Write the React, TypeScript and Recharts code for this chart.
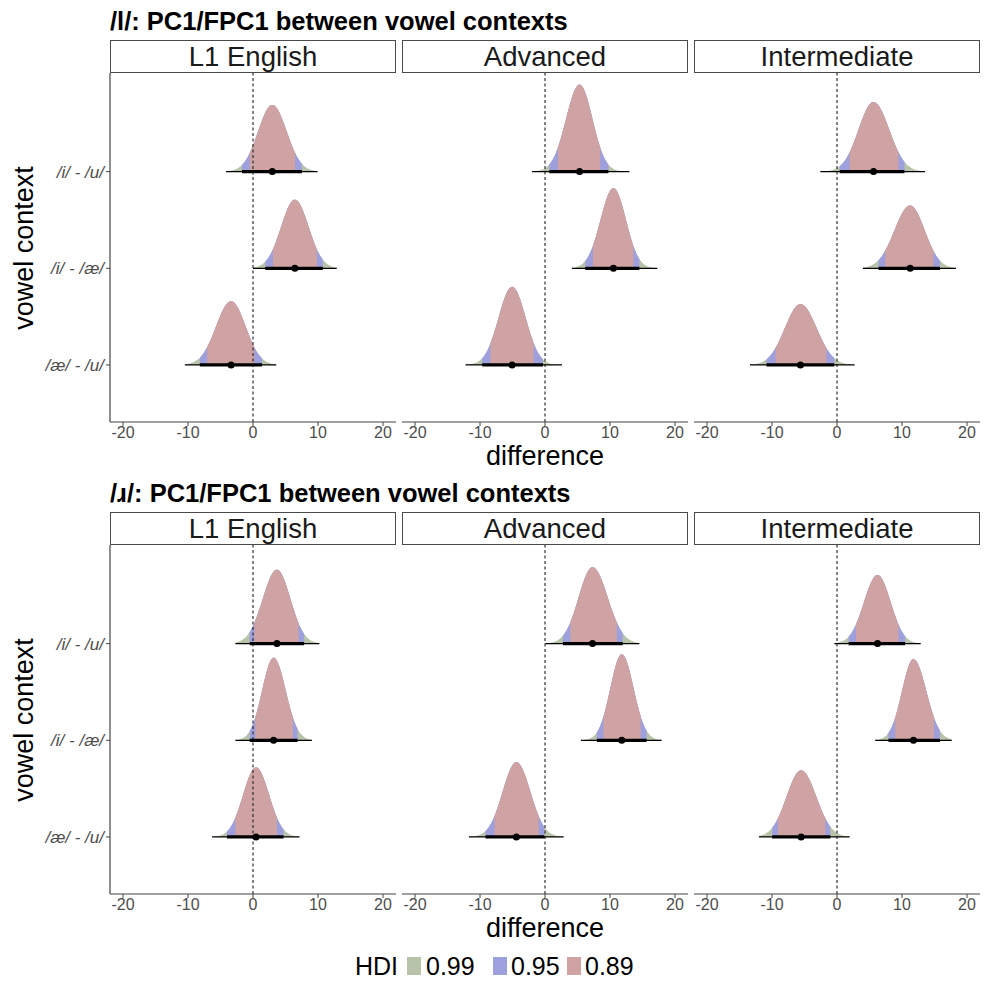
import React from 'react';
import { ComposedChart, Area, Line, Scatter, XAxis, YAxis, ReferenceLine } from 'recharts';

// ---------- data ----------
const TITLES = ['/l/: PC1/FPC1 between vowel contexts', '/ɹ/: PC1/FPC1 between vowel contexts'];
const GROUPS = ['L1 English', 'Advanced', 'Intermediate'];
const CONTRASTS = ['/i/ - /u/', '/i/ - /æ/', '/æ/ - /u/']; // top to bottom
const X_TICKS = [-20, -10, 0, 10, 20];
const HDI_LEVELS = ['0.99', '0.95', '0.89'];

// Row /l/  (per group, per contrast)
const L_MEDIAN = [[2.97, 6.44, -3.37], [5.32, 10.53, -5.06], [5.62, 11.25, -5.62]];
const L_LO99 = [[-4.14, 0.0, -10.48], [-1.99, 4.14, -12.22], [-2.56, 3.99, -13.39]];
const L_HI99 = [[9.92, 12.88, 3.58], [12.99, 17.28, 2.61], [13.55, 18.3, 2.71]];
const L_LO95 = [[-1.69, 1.89, -8.18], [0.66, 6.19, -9.66], [0.41, 6.39, -10.84]];
const L_HI95 = [[7.52, 10.74, 1.38], [9.76, 14.52, -0.31], [10.38, 15.85, -0.41]];
const L_LO89 = [[-0.51, 3.07, -7.06], [1.99, 7.36, -8.38], [1.94, 7.41, -9.46]];
const L_HI89 = [[6.49, 9.82, 0.2], [8.49, 13.6, -1.74], [9.46, 14.83, -1.64]];
const L_PEAK = [[0.69, 0.71, 0.66], [0.9, 0.83, 0.81], [0.72, 0.65, 0.63]];

// Row /ɹ/
const R_MEDIAN = [[3.68, 3.17, 0.46], [7.31, 11.81, -4.4], [6.24, 11.76, -5.52]];
const R_LO99 = [[-2.71, -2.71, -6.29], [0.05, 5.52, -11.71], [-0.41, 5.88, -12.01]];
const R_HI99 = [[10.22, 9.05, 7.16], [14.52, 17.94, 2.86], [12.88, 17.64, 1.94]];
const R_LO95 = [[-0.51, -0.51, -3.99], [2.76, 7.98, -9.15], [1.79, 7.92, -9.97]];
const R_HI95 = [[7.87, 6.85, 4.7], [11.96, 15.64, -0.1], [10.48, 15.85, -1.02]];
const R_LO89 = [[0.2, 0.36, -2.71], [3.89, 9.0, -7.77], [2.91, 8.95, -9.1]];
const R_HI89 = [[7.0, 6.13, 3.68], [11.04, 14.72, -0.97], [9.46, 14.93, -1.79]];
const R_PEAK = [[0.765, 0.855, 0.72], [0.79, 0.89, 0.775], [0.71, 0.84, 0.69]];

const ROWS = [
  { med: L_MEDIAN, lo99: L_LO99, hi99: L_HI99, lo95: L_LO95, hi95: L_HI95, lo89: L_LO89, hi89: L_HI89, peak: L_PEAK },
  { med: R_MEDIAN, lo99: R_LO99, hi99: R_HI99, lo95: R_LO95, hi95: R_HI95, lo89: R_LO89, hi89: R_HI89, peak: R_PEAK },
];

// ---------- style / layout ----------
const FONT = '"Liberation Sans", Arial, Helvetica, sans-serif';
const C99 = '#b8c4a9';
const C95 = '#9e9fdd';
const C89 = '#cfa2a4';
const PANEL_W = 286;
const PANEL_H = 349;
const XAXIS_H = 36;
const YAXIS_W = 100;
const PANEL_LEFTS = [110, 402, 694];
const ROW_OFFSET = 472;
const STRIP_TOP = 40;
const STRIP_H = 33;
const X_DOMAIN: [number, number] = [-22, 22];
const Y_DOMAIN: [number, number] = [0.41, 4.02];

function densityAt(x: number, med: number, sL: number, sR: number, peak: number) {
  const s = x < med ? sL : sR;
  const z = (x - med) / s;
  return peak * Math.exp(-0.5 * z * z);
}

function band(lo: number, hi: number, base: number, med: number, sL: number, sR: number, peak: number) {
  const n = 60;
  const pts: { x: number; v: [number, number] }[] = [];
  for (let i = 0; i <= n; i++) {
    const x = lo + ((hi - lo) * i) / n;
    pts.push({ x, v: [base, base + densityAt(x, med, sL, sR, peak)] });
  }
  return pts;
}

function Txt(props: {
  x: number; y: number; size: number; anchor?: 'start' | 'middle'; bold?: boolean;
  color?: string; rotate?: boolean; children: React.ReactNode;
}) {
  const { x, y, size, anchor = 'middle', bold, color = '#000', rotate, children } = props;
  const tx = anchor === 'middle' ? '-50%' : '0';
  return (
    <div
      style={{
        position: 'absolute', left: x, top: y, whiteSpace: 'nowrap',
        fontFamily: FONT, fontSize: size, lineHeight: `${size}px`, fontWeight: bold ? 700 : 400, color,
        transform: `translate(${tx}, -50%)${rotate ? ' rotate(-90deg)' : ''}`,
        transformOrigin: 'center center',
      }}
    >
      {children}
    </div>
  );
}

function Panel({ r, g, top }: { r: number; g: number; top: number }) {
  const row = ROWS[r];
  const showY = g === 0;
  const left = PANEL_LEFTS[g] - (showY ? YAXIS_W : 0);
  const width = PANEL_W + (showY ? YAXIS_W : 0);

  const items: React.ReactNode[] = [];
  const lines: React.ReactNode[] = [];
  const points: React.ReactNode[] = [];
  CONTRASTS.forEach((_, c) => {
    const base = 3 - c;
    const med = row.med[g][c];
    const sL = (med - row.lo89[g][c]) / 1.598;
    const sR = (row.hi89[g][c] - med) / 1.598;
    const peak = row.peak[g][c];
    const bands: [number, number, string][] = [
      [row.lo99[g][c], row.hi99[g][c], C99],
      [row.lo95[g][c], row.hi95[g][c], C95],
      [row.lo89[g][c], row.hi89[g][c], C89],
    ];
    bands.forEach(([lo, hi, col], b) => {
      items.push(
        <Area
          key={`a${c}-${b}`}
          data={band(lo, hi, base, med, sL, sR, peak)}
          dataKey="v"
          type="monotone"
          stroke="none"
          fill={col}
          fillOpacity={1}
          dot={false}
          activeDot={false}
          isAnimationActive={false}
        />
      );
    });
    lines.push(
      <Line
        key={`l99-${c}`}
        data={[{ x: row.lo99[g][c], y: base }, { x: row.hi99[g][c], y: base }]}
        dataKey="y"
        stroke="#000"
        strokeWidth={1.3}
        dot={false}
        activeDot={false}
        isAnimationActive={false}
      />
    );
    lines.push(
      <Line
        key={`l95-${c}`}
        data={[{ x: row.lo95[g][c], y: base }, { x: row.hi95[g][c], y: base }]}
        dataKey="y"
        stroke="#000"
        strokeWidth={3.2}
        dot={false}
        activeDot={false}
        isAnimationActive={false}
      />
    );
    points.push(
      <Scatter
        key={`p${c}`}
        data={[{ x: med, y: base }]}
        dataKey="y"
        fill="#000"
        isAnimationActive={false}
        shape={(p: any) => <circle cx={p.cx} cy={p.cy} r={3.5} fill="#000" />}
      />
    );
  });

  return (
    <div style={{ position: 'absolute', left, top }}>
      <ComposedChart width={width} height={PANEL_H + XAXIS_H} margin={{ top: 0, right: 0, bottom: 0, left: 0 }}>
        <XAxis
          dataKey="x"
          type="number"
          domain={X_DOMAIN}
          allowDataOverflow
          ticks={X_TICKS}
          interval={0}
          height={XAXIS_H}
          tickSize={4}
          tickMargin={1}
          axisLine={{ stroke: '#444', strokeWidth: 1.2 }}
          tickLine={{ stroke: '#444', strokeWidth: 1 }}
          tick={{ fill: '#4d4d4d', fontSize: 16, fontFamily: FONT }}
        />
        <YAxis
          type="number"
          domain={Y_DOMAIN}
          allowDataOverflow
          ticks={[1, 2, 3]}
          interval={0}
          hide={!showY}
          width={YAXIS_W}
          tickSize={4}
          tickMargin={2}
          tickFormatter={(v: number) => CONTRASTS[3 - v]}
          axisLine={{ stroke: '#444', strokeWidth: 1.2 }}
          tickLine={{ stroke: '#444', strokeWidth: 1 }}
          tick={{ fill: '#4d4d4d', fontSize: 17, fontFamily: FONT, fontStyle: 'italic' }}
        />
        {items}
        <ReferenceLine x={0} stroke="#333" strokeWidth={1.2} strokeDasharray="3 2.5" />
        {lines}
        {points}
      </ComposedChart>
    </div>
  );
}

export default function App() {
  return (
    <div style={{ position: 'absolute', left: 0, top: 0, width: 984, height: 984, background: '#fff', overflow: 'hidden' }}>
      {ROWS.map((_, r) => {
        const off = r * ROW_OFFSET;
        const panelTop = STRIP_TOP + STRIP_H + off;
        const midX = PANEL_LEFTS[1] + PANEL_W / 2;
        return (
          <React.Fragment key={r}>
            <Txt x={110} y={22 + off} size={25.5} bold anchor="start">{TITLES[r]}</Txt>
            {GROUPS.map((name, g) => (
              <div
                key={name}
                style={{
                  position: 'absolute', left: PANEL_LEFTS[g], top: STRIP_TOP + off, width: PANEL_W, height: STRIP_H,
                  boxSizing: 'border-box', border: '1.2px solid #4a4a4a', display: 'flex',
                  alignItems: 'center', justifyContent: 'center', fontFamily: FONT, fontSize: 27.5, color: '#1a1a1a',
                }}
              >
                {name}
              </div>
            ))}
            {GROUPS.map((name, g) => (
              <Panel key={`p${name}`} r={r} g={g} top={panelTop} />
            ))}
            <Txt x={midX} y={456 + off} size={27}>difference</Txt>
            <Txt x={24} y={panelTop + PANEL_H / 2} size={27} rotate>vowel context</Txt>
          </React.Fragment>
        );
      })}
      {/* legend */}
      <Txt x={355} y={966} size={25} anchor="start">HDI</Txt>
      {[C99, C95, C89].map((col, i) => (
        <React.Fragment key={col}>
          <div style={{ position: 'absolute', left: [407, 493, 567][i], top: 957, width: 14, height: 18, background: col }} />
          <Txt x={[426, 511, 585][i]} y={966} size={25} anchor="start">{HDI_LEVELS[i]}</Txt>
        </React.Fragment>
      ))}
    </div>
  );
}
